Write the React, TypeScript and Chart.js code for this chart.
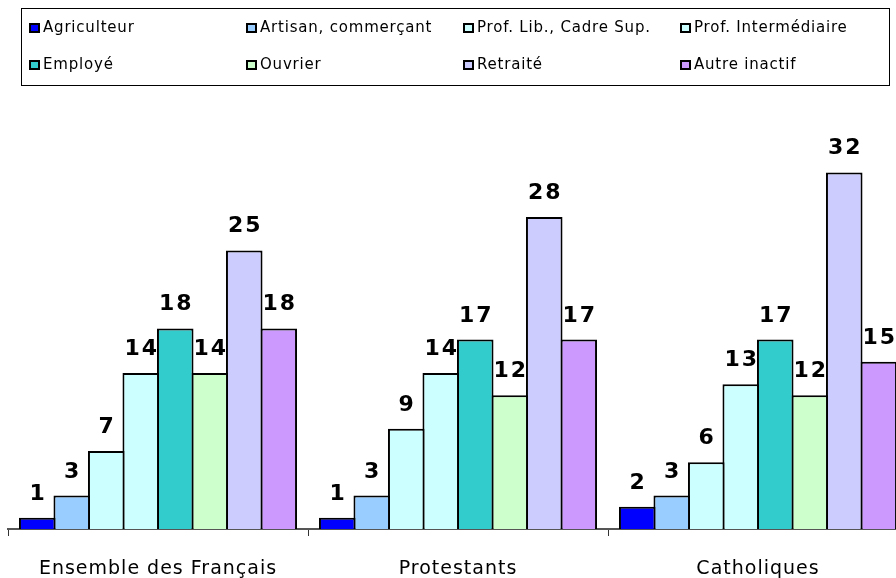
import React, { useEffect, useRef } from "react";
import { Chart, registerables } from "chart.js";

Chart.register(...registerables);

const categories = ["Ensemble des Français", "Protestants", "Catholiques"];
const seriesNames = [
  "Agriculteur",
  "Artisan, commerçant",
  "Prof. Lib., Cadre Sup.",
  "Prof. Intermédiaire",
  "Employé",
  "Ouvrier",
  "Retraité",
  "Autre inactif",
];
const agriculteur = [1, 1, 2];
const artisan = [3, 3, 3];
const profLib = [7, 9, 6];
const profInter = [14, 14, 13];
const employe = [18, 17, 17];
const ouvrier = [14, 12, 12];
const retraite = [25, 28, 32];
const autreInactif = [18, 17, 15];
const seriesValues = [agriculteur, artisan, profLib, profInter, employe, ouvrier, retraite, autreInactif];
const seriesColors = ["#0000FF", "#99CCFF", "#CCFFFF", "#CCFFFF", "#33CCCC", "#CCFFCC", "#CCCCFF", "#CC99FF"];
const yMax = 35;

const legendPlugin = {
  id: "boxLegend",
  afterDraw(chart: any) {
    const ctx = chart.ctx;
    ctx.save();
    ctx.strokeStyle = "#000";
    ctx.lineWidth = 1;
    ctx.strokeRect(21.5, 8.5, 868, 77);
    const colX = [29, 246, 463, 680];
    const rowY = [28, 65];
    ctx.font = "15px 'DejaVu Sans'";
    (ctx as any).letterSpacing = "0.8px";
    ctx.textBaseline = "middle";
    ctx.textAlign = "left";
    seriesNames.forEach((name, i) => {
      const x = colX[i % 4];
      const y = rowY[Math.floor(i / 4)];
      ctx.fillStyle = "#000";
      ctx.fillRect(x, y - 5, 11, 10);
      ctx.fillStyle = seriesColors[i];
      ctx.fillRect(x + 2, y - 3, 7, 6);
      ctx.fillStyle = "#000";
      ctx.fillText(name, x + 14, y);
    });
    ctx.restore();
  },
};

const valueLabelPlugin = {
  id: "valueLabels",
  afterDatasetsDraw(chart: any) {
    const ctx = chart.ctx;
    ctx.save();
    ctx.font = "bold 22px 'DejaVu Sans'";
    (ctx as any).letterSpacing = "2px";
    ctx.fillStyle = "#000";
    ctx.textAlign = "center";
    ctx.textBaseline = "alphabetic";
    chart.data.datasets.forEach((ds: any, di: number) => {
      const meta = chart.getDatasetMeta(di);
      meta.data.forEach((el: any, i: number) => {
        ctx.fillText(String(ds.data[i]), el.x + 1, el.y - 18);
      });
    });
    ctx.restore();
  },
};

export default function App() {
  const ref = useRef<HTMLCanvasElement>(null);
  useEffect(() => {
    if (!ref.current) return;
    const chart = new Chart(ref.current, {
      type: "bar",
      data: {
        labels: categories,
        datasets: seriesNames.map((name, i) => ({
          label: name,
          data: seriesValues[i],
          backgroundColor: seriesColors[i],
          borderColor: "#000",
          borderWidth: 2,
          borderSkipped: "bottom",
          categoryPercentage: 0.92,
          barPercentage: 1.06,
        })),
      },
      options: {
        responsive: false,
        animation: false,
        layout: { padding: { left: 8, right: 2, top: 139, bottom: 0 } },
        plugins: { legend: { display: false }, tooltip: { enabled: false } },
        scales: {
          x: {
            grid: {
              display: true,
              drawOnChartArea: false,
              drawTicks: true,
              tickLength: 7,
              color: "#333",
              offset: true,
            },
            border: { display: true, color: "#555", width: 2 },
            ticks: {
              color: "#000",
              font: { family: "'DejaVu Sans'", size: 19 },
              padding: 22,
            },
            afterFit: (s: any) => {
              s.height = 49;
            },
          },
          y: { display: false, min: 0, max: yMax },
        },
      },
      plugins: [legendPlugin, valueLabelPlugin],
    });
    return () => chart.destroy();
  }, []);
  return (
    <div style={{ position: "absolute", left: 0, top: 0, width: 896, height: 578, overflow: "hidden", background: "#fff" }}>
      <canvas ref={ref} width={910} height={578} style={{ display: "block", letterSpacing: "1px" }} />
    </div>
  );
}
